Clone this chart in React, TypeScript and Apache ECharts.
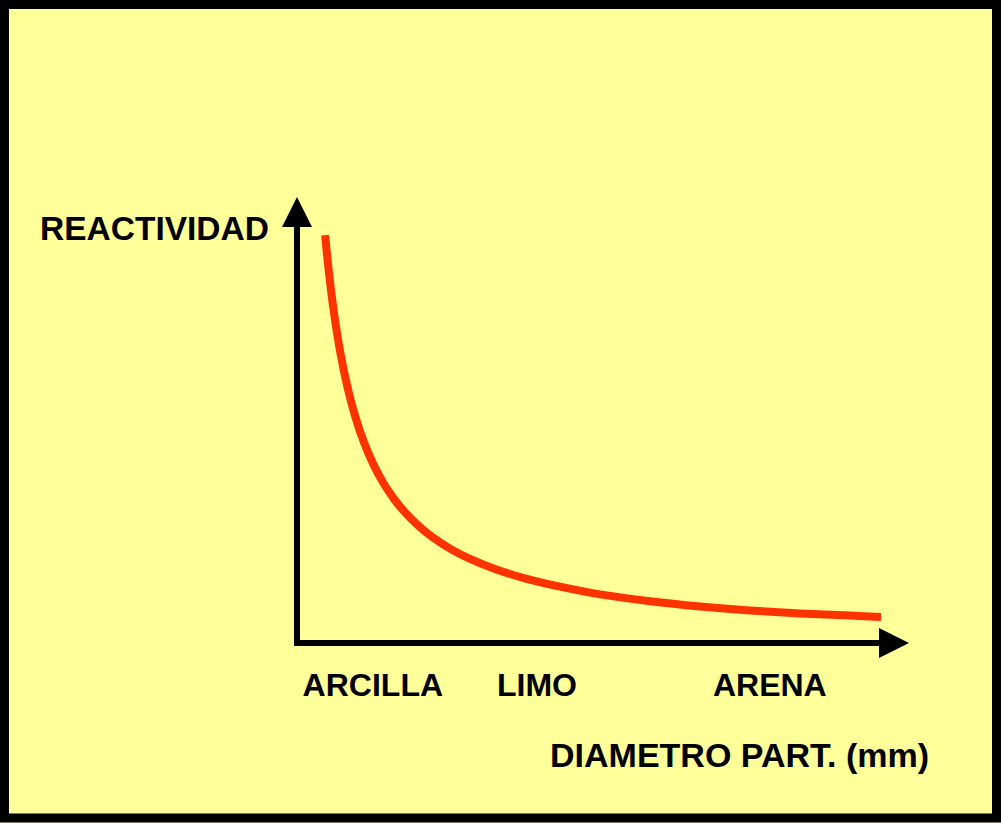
import React, { useEffect, useRef } from "react";
import * as echarts from "echarts";

// Particle diameter (relative units along the axis) and reactivity (relative units)
const diameterValues = [
  4.71, 5.36, 6.2, 7.27, 8.49, 9.83, 11.26, 12.85, 14.47, 16.26, 18.19, 20.39, 22.66,
  25.63, 28.98, 33.17, 38.19, 44.05, 50.75, 59.13, 67.5, 75.88, 84.25, 92.63, 97.82,
];
const reactivityValues = [
  94.66, 85.85, 76.57, 67.29, 59.16, 52.2, 46.4, 41.3, 37.12, 33.41, 30.16, 27.15, 24.59,
  21.9, 19.51, 17.17, 14.99, 13.06, 11.28, 9.7, 8.49, 7.56, 6.87, 6.36, 6.06,
];

const categoryNames = ["ARCILLA", "LIMO", "ARENA"];
const categoryPositions = [12.7, 40.2, 79.2];

const yAxisTitle = "REACTIVIDAD";
const xAxisTitle = "DIAMETRO PART. (mm)";

const FONT = '"Liberation Sans", Arial, Helvetica, sans-serif';

export default function App() {
  const ref = useRef<HTMLDivElement>(null);

  useEffect(() => {
    if (!ref.current) return;
    const chart = echarts.init(ref.current, undefined, { renderer: "svg" });
    const data = diameterValues.map((x, i) => [x, reactivityValues[i]]);

    const axisLine = {
      show: true,
      onZero: false,
      symbol: ["none", "triangle"],
      symbolSize: [30, 30],
      lineStyle: { color: "#000000", width: 6, cap: "square" },
    };

    chart.setOption({
      animation: false,
      backgroundColor: "#FFFF99",
      textStyle: { fontFamily: FONT },
      grid: { left: 297, right: 107, top: 212, bottom: 180, containLabel: false },
      xAxis: {
        type: "value",
        min: 0,
        max: 100,
        axisLine,
        axisTick: { show: false },
        splitLine: { show: false },
        axisLabel: {
          show: true,
          customValues: categoryPositions,
          formatter: (v: number) => {
            const idx = categoryPositions.findIndex((p) => Math.abs(p - v) < 1e-6);
            return idx >= 0 ? categoryNames[idx] : "";
          },
          color: "#000000",
          fontSize: 32,
          fontWeight: "bold",
          fontFamily: FONT,
          margin: 26,
          hideOverlap: false,
          showMinLabel: true,
          showMaxLabel: true,
        },
      },
      yAxis: {
        type: "value",
        min: 0,
        max: 100,
        axisLine,
        axisTick: { show: false },
        splitLine: { show: false },
        axisLabel: { show: false },
      },
      series: [
        {
          type: "line",
          data,
          smooth: 0.3,
          symbol: "none",
          clip: false,
          lineStyle: { color: "#FF3300", width: 8, cap: "butt", join: "round" },
        },
      ],
      graphic: [
        {
          type: "rect",
          shape: { x: 4.5, y: 4.5, width: 992, height: 813.5 },
          style: { fill: "none", stroke: "#000000", lineWidth: 9 },
          z: 100,
        },
        {
          type: "text",
          x: 40,
          y: 228.5,
          style: {
            text: yAxisTitle,
            fill: "#000000",
            font: `bold 33.5px ${FONT}`,
            align: "left",
            verticalAlign: "middle",
          },
        },
        {
          type: "text",
          x: 550,
          y: 754.5,
          style: {
            text: xAxisTitle,
            fill: "#000000",
            font: `bold 34px ${FONT}`,
            align: "left",
            verticalAlign: "middle",
          },
        },
      ],
    });

    return () => chart.dispose();
  }, []);

  return (
    <div
      ref={ref}
      style={{ position: "fixed", left: 0, top: 0, width: 1001, height: 823 }}
    />
  );
}
